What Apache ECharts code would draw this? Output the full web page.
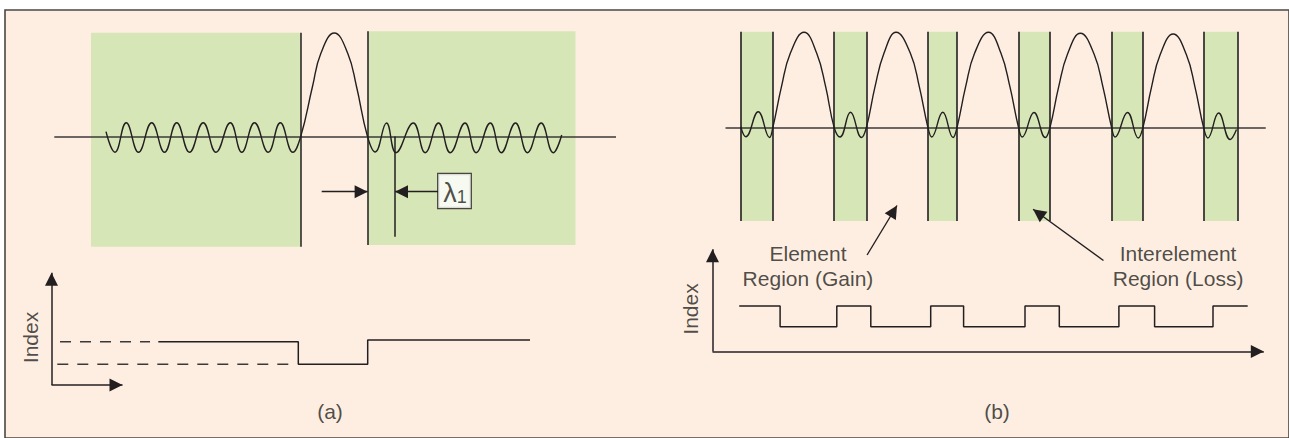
<!DOCTYPE html>
<html>
<head>
<meta charset="utf-8">
<script src="https://cdn.jsdelivr.net/npm/echarts@6/dist/echarts.min.js"></script>
<style>
html,body{margin:0;padding:0;background:#fff;}
#c{width:1289px;height:438px;}
</style>
</head>
<body>
<div id="c"></div>
<script>
// ---------- DATA (x = position, y = amplitude / index) ----------
// Panel (a): optical field across the structure
const aField = [[56,4.8],[65,-15.8],[76.2,13.8],[88.5,-15.8],[101.7,13.8],[114.5,-15.8],[126.7,13.8],[139.5,-15.8],
  [153.2,13.8],[166,-15.8],[180.3,13.8],[191.8,-15.8],[204.5,13.8],[218.2,-15.8],[230.3,13.8],[242.8,-15.8],
  [250.7,0],[262.5,50],[270.8,83],[284.3,103.5],[297.8,83],[306.5,50],[317.5,0],
  [325.2,-15.5],[336.5,13.5],[346,-16.2],[363.3,13.5],[375.2,-16.2],[388.5,13.5],[400.3,-16.2],[415,13.5],
  [426.1,-16.2],[440.3,13.5],[451.3,-16.2],[465.5,13.5],[477.4,-16.2],[491.2,13.5],[503.2,-16.2],[511.7,1.5]];
const aGainRegions = [[41,250.8,103.8,-110.2],[317.3,525.5,105.2,-108.5]];   // [x0,x1,top,bottom]
const aBoundaries = [[250.8,103.8,-110.2],[317.6,105.2,-108.5],[344.5,0,-100.2]]; // [x,top,bottom]
const aFieldAxis = [[4.3,0,566,0]];
const aLambdaArrows = [[271.7,-55.2,317.6,-55.2],[388.3,-55.2,345,-55.2]];   // [x0,y0,tipX,tipY]
const aLambdaBox = [404.5,-54.5];
// Panel (a): index profile
const aIndexAxes = [[1.5,0,1.5,112.3],[1.5,0,72.5,0]];
const aIndexSolid = [[108.3,43.3],[248.3,20.7],[317.7,45],[480,45]];
const aIndexDashHigh = [[10,43.3],[100,43.3]];
const aIndexDashLow = [[7.3,20.7],[238.3,20.7]];
const aIndexLabelAt = [-19.5,47.5];
const aTagAt = [280,-26.7];

// Panel (b): array of elements
const bField = [[41.5,0.8],[46.7,-9.2],[59.3,15.8],[70.9,-10],[74.2,0],
  [83,40.8],[92,74.2],[106,95.2],[118.9,74.2],[128,40.8],[136.7,0],
  [142.7,-9.5],[153.3,15.2],[164.5,-10],[169.5,0],
  [178.3,40.8],[187.4,74.2],[199.7,95.2],[214.3,74.2],[223.4,40.8],[232.2,0],
  [236,-9.5],[247.3,15.2],[257.8,-10],[261.8,0],
  [270.6,40.8],[279.7,74.2],[293.9,95.2],[306.6,74.2],[315.7,40.8],[324.5,0],
  [328.2,-9.5],[340.2,15],[351.8,-10],[356.5,0],
  [365.3,40.4],[374.4,73.5],[387.5,94.2],[401.4,73.5],[410.5,40.4],[419.3,0],
  [422.8,-9.5],[435.5,15],[446.5,-10.5],[451.2,0],
  [459.9,40.2],[468.8,73],[482,93.5],[495.4,73],[504.3,40.2],[513,0],
  [517.3,-10.5],[528.3,14.5],[540,-12],[546.5,-2]];
const bLossRegions = [[41.5,74.2],[136.7,169.5],[232.2,261.8],[324.5,356.5],[419.3,451.2],[513,547.3]];
const bRegionTop = 95.8, bRegionBottom = -93.5;
const bFieldAxis = [[26,0,576.3,0]];
const bPointers = [[170.2,-127.5,200.7,-78],[411,-133,339.3,-81.8]];
const bCaptions = ['Element\nRegion (Gain)','Interelement\nRegion (Loss)'];
const bCaptionAt = [[110,-138.3],[487,-138.3]];
const bIndexAxes = [[12.5,0,12.5,102.2],[12.5,0,563.8,0]];
const bIndexSteps = [[39.2,45.5],[80.1,24.8],[136.8,45.5],[170.8,24.8],[230.7,45.5],[263.6,24.8],[325,45.5],
  [359.3,24.8],[418.9,45.5],[454.6,24.8],[513,45.5],[547.7,45.5]];
const bIndexLabelAt = [-9.5,42.5];
const bTagAt = [297,-60.2];

const indexLabel = 'Index';
const panelTags = ['(a)','(b)'];
const lambdaText = '{l|λ}{s|1}';

// ---------- STYLE ----------
const INK = '#231f20';
const GREEN = '#d7e6b7';
const PEACH = '#fdeee1';
const FONT = '"Liberation Sans", Arial, Helvetica, sans-serif';

function segSeries(g, segs, o) {
  o = o || {};
  return {
    type: 'line', xAxisIndex: g, yAxisIndex: g, data: [], z: o.z || 3, silent: true,
    markLine: {
      silent: true, animation: false,
      symbol: o.arrow ? ['none','triangle'] : ['none','none'],
      symbolSize: o.arrow ? [13,13] : 1,
      symbolOffset: o.arrow ? [0,[0,6.5]] : 0,
      label: {show: false},
      emphasis: {disabled: true},
      lineStyle: {color: o.color || INK, width: o.width || 1.5, type: 'solid', opacity: 1},
      itemStyle: {color: o.color || INK},
      data: segs.map(s => [{coord: [s[0], s[1]]}, {coord: [s[2], s[3]]}])
    }
  };
}
function areaSeries(g, rects) {
  return {
    type: 'line', xAxisIndex: g, yAxisIndex: g, data: [], z: 1, silent: true,
    markArea: {
      silent: true, animation: false,
      itemStyle: {color: GREEN, opacity: 1, borderWidth: 0},
      label: {show: false},
      emphasis: {disabled: true},
      data: rects.map(r => [{coord: [r[0], r[2]]}, {coord: [r[1], r[3]]}])
    }
  };
}
function textSeries(g, items) {
  return {
    type: 'scatter', xAxisIndex: g, yAxisIndex: g, symbol: 'circle', symbolSize: 1, silent: true, z: 8,
    itemStyle: {color: 'rgba(0,0,0,0)'},
    label: {show: true, position: 'inside', color: INK, fontFamily: FONT, fontSize: 21, lineHeight: 25,
      formatter: p => p.name},
    data: items.map(t => Object.assign({name: t.text, value: t.at}, t.label ? {label: t.label} : {}))
  };
}

const chart = echarts.init(document.getElementById('c'), null, {renderer: 'svg'});

const grids = [
  {left: 5, top: 10, width: 1300, height: 450, show: true, backgroundColor: PEACH, borderColor: '#4a4644', borderWidth: 1.6},
  {left: 50, top: 26.5, width: 600, height: 230},   // (a) field
  {left: 10, top: 265, width: 600, height: 160},    // (a) index
  {left: 700, top: 22.5, width: 600, height: 265},  // (b) field
  {left: 660, top: 241.5, width: 620, height: 180}  // (b) index
];
const xr = [[0,1],[0,600],[-40,560],[0,600],[-40,580]];
const yr = [[0,1],[-120,110],[-40,120],[-160,105],[-70,110]];

const option = {
  backgroundColor: '#ffffff',
  animation: false,
  grid: grids,
  xAxis: xr.map((r,i) => ({type: 'value', gridIndex: i, min: r[0], max: r[1], show: false})),
  yAxis: yr.map((r,i) => ({type: 'value', gridIndex: i, min: r[0], max: r[1], show: false})),
  series: [
    areaSeries(1, aGainRegions),
    areaSeries(3, bLossRegions.map(b => [b[0], b[1], bRegionTop, bRegionBottom])),
    segSeries(1, aFieldAxis, {color: '#3b3838', width: 1.6}),
    segSeries(3, bFieldAxis, {color: '#3b3838', width: 1.6}),
    segSeries(1, aBoundaries.map(b => [b[0], b[1], b[0], b[2]]), {width: 1.5}),
    segSeries(3, bLossRegions.flatMap(b => [[b[0], bRegionTop, b[0], bRegionBottom],[b[1], bRegionTop, b[1], bRegionBottom]]), {width: 1.6}),
    {type: 'line', xAxisIndex: 1, yAxisIndex: 1, data: aField, smooth: 0.45, symbol: 'none', silent: true, z: 5,
      lineStyle: {color: INK, width: 1.4}},
    {type: 'line', xAxisIndex: 3, yAxisIndex: 3, data: bField, smooth: 0.45, symbol: 'none', silent: true, z: 5,
      lineStyle: {color: INK, width: 1.4}},
    segSeries(1, aLambdaArrows, {arrow: true, width: 1.4}),
    segSeries(3, bPointers, {arrow: true, width: 1.4}),
    segSeries(2, aIndexAxes, {arrow: true, width: 1.5}),
    segSeries(4, bIndexAxes, {arrow: true, width: 1.5}),
    {type: 'line', xAxisIndex: 2, yAxisIndex: 2, data: aIndexSolid, step: 'end', symbol: 'none', silent: true, z: 5,
      lineStyle: {color: INK, width: 1.5}},
    {type: 'line', xAxisIndex: 2, yAxisIndex: 2, data: aIndexDashHigh, symbol: 'none', silent: true, z: 5,
      lineStyle: {color: '#3b3838', width: 1.4, type: [11, 9]}},
    {type: 'line', xAxisIndex: 2, yAxisIndex: 2, data: aIndexDashLow, symbol: 'none', silent: true, z: 5,
      lineStyle: {color: '#3b3838', width: 1.4, type: [11, 9]}},
    {type: 'line', xAxisIndex: 4, yAxisIndex: 4, data: bIndexSteps, step: 'end', symbol: 'none', silent: true, z: 5,
      lineStyle: {color: INK, width: 1.5}},
    textSeries(2, [
      {text: indexLabel, at: aIndexLabelAt, label: {rotate: 90}},
      {text: panelTags[0], at: aTagAt}
    ]),
    textSeries(4, [
      {text: indexLabel, at: bIndexLabelAt, label: {rotate: 90}},
      {text: panelTags[1], at: bTagAt}
    ]),
    textSeries(3, bCaptions.map((t,i) => ({text: t, at: bCaptionAt[i]}))),
    textSeries(1, [{text: lambdaText, at: aLambdaBox, label: {
      backgroundColor: '#ffffff', borderColor: INK, borderWidth: 1.2, padding: [2,4,2,5],
      rich: {
        l: {fontSize: 27, fontFamily: FONT, color: INK, lineHeight: 30, verticalAlign: 'bottom'},
        s: {fontSize: 18, fontFamily: FONT, color: INK, lineHeight: 30, verticalAlign: 'bottom'}
      }}}])
  ]
};
chart.setOption(option);
</script>
</body>
</html>
